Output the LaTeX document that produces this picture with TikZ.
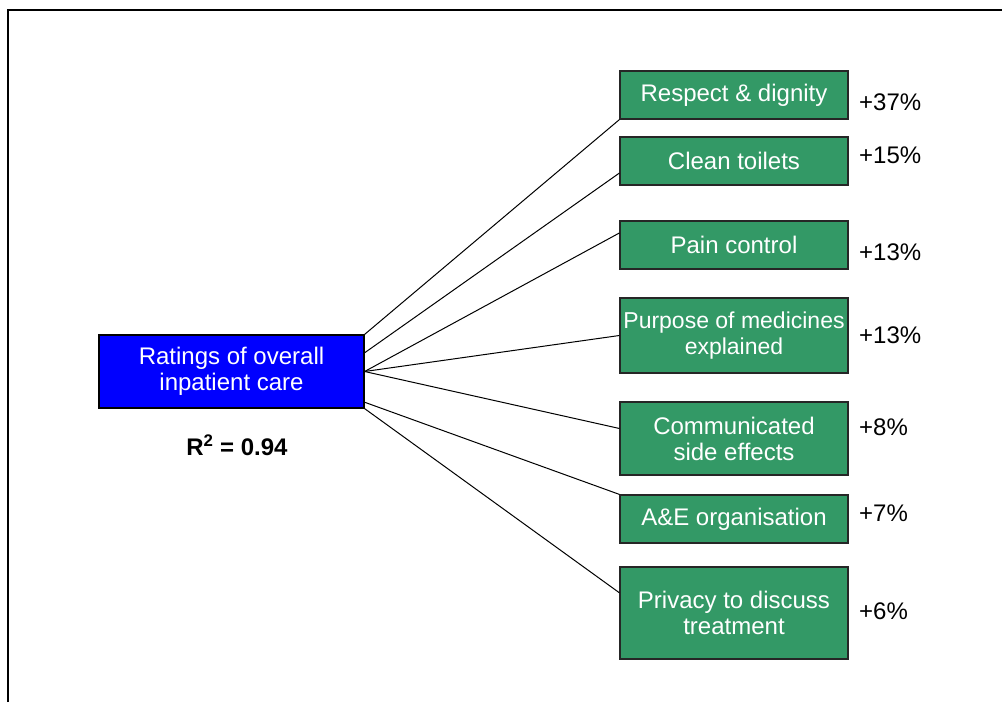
\documentclass[tikz,border=0pt]{standalone}
\usepackage{fontspec}
\setmainfont{Liberation Sans}
\usepackage{tikz}
\definecolor{boxgreen}{RGB}{51,153,102}
\definecolor{boxblue}{RGB}{0,0,255}

\begin{document}
\begin{tikzpicture}[x=1pt,y=-1pt,
  factor/.style={draw=black!85, fill=boxgreen, text=white, line width=1.2pt, minimum width=228pt, inner sep=0pt, align=center, font=\fontsize{24}{26}\selectfont},
  rating/.style={draw=black, fill=boxblue, text=white, line width=1.2pt, minimum width=265pt, minimum height=73pt, inner sep=0pt, align=center, font=\fontsize{24}{26}\selectfont},
  gain/.style={anchor=west, inner sep=0pt, font=\fontsize{24}{26}\selectfont},
  link/.style={line width=1pt}]
\useasboundingbox (0,0) rectangle (1002,702);
\draw[line width=2pt] (8,702) -- (8,10) -- (1002,10);
\node[rating] (care) at (231.5,371.5) {Ratings of overall\\inpatient care};
\node[inner sep=0pt, font=\fontsize{24}{26}\selectfont\bfseries] (rsq) at (237,445) {R\textsuperscript{2} = 0.94};
\node[factor, minimum height=48pt] (respect) at (734,95) {Respect \& dignity};
\node[factor, minimum height=48pt] (toilets) at (734,161) {Clean toilets};
\node[factor, minimum height=48pt] (pain) at (734,245) {Pain control};
\node[factor, minimum height=75pt, font=\fontsize{23}{26}\selectfont] (medicines) at (734,335.5) {Purpose of medicines\\explained};
\node[factor, minimum height=73pt] (effects) at (734,438.5) {Communicated\\side effects};
\node[factor, minimum height=48pt] (ae) at (734,519) {A\&E organisation};
\node[factor, minimum height=92pt] (privacy) at (734,613) {Privacy to discuss\\treatment};
% contributions
\node[gain] (g1) at (859,102) {+37\%};
\node[gain] (g2) at (859,155) {+15\%};
\node[gain] (g3) at (859,252) {+13\%};
\node[gain] (g4) at (859,335) {+13\%};
\node[gain] (g5) at (859,427) {+8\%};
\node[gain] (g6) at (859,513) {+7\%};
\node[gain] (g7) at (859,611) {+6\%};
% links
\draw[link] (care.north east) -- (respect.south west);
\draw[link] (care.8) -- (toilets.186);
\draw[link] (care.east) -- (pain.174);
\draw[link] (care.east) -- (medicines.west);
\draw[link] (care.east) -- (effects.175);
\draw[link] (care.-13) -- (ae.north west);
\draw[link] (care.south east) -- (privacy.170);
\end{tikzpicture}
\end{document}
